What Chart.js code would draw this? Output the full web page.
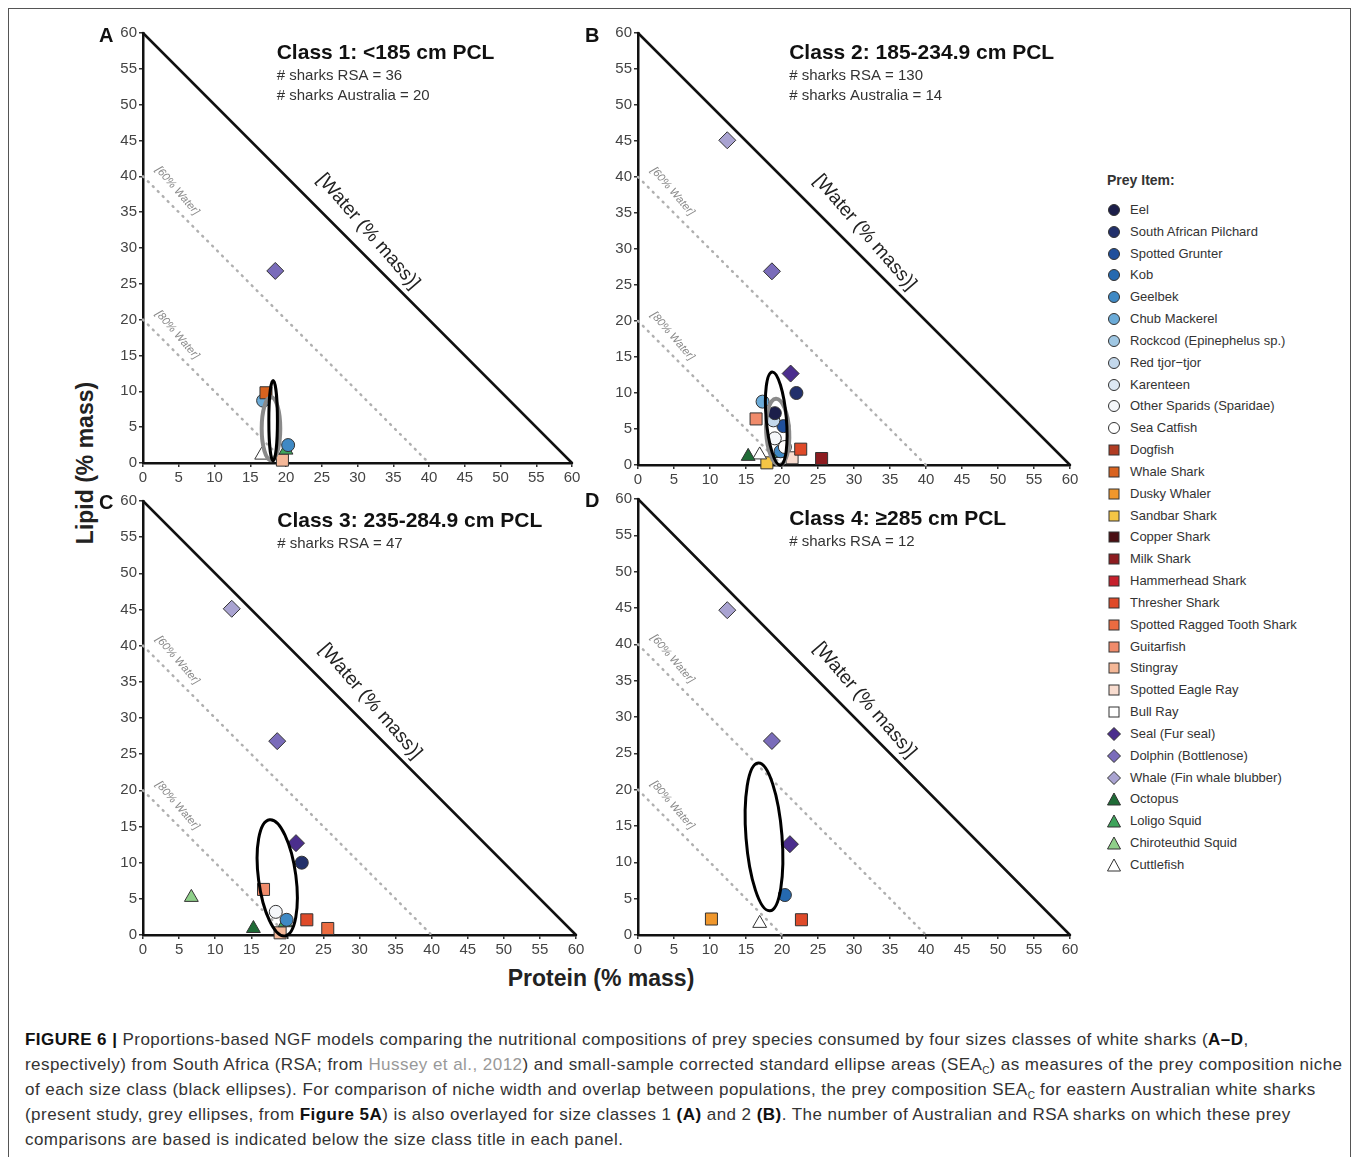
<!DOCTYPE html>
<html>
<head>
<meta charset="utf-8">
<script src="https://cdn.jsdelivr.net/npm/chart.js@4.4.1/dist/chart.umd.min.js"></script>
<style>
  body { margin: 0; background: #fff; font-family: "Liberation Sans", Arial, sans-serif; }
  #fig { position: relative; width: 1357px; height: 1157px; overflow: hidden; }
  #frame { position: absolute; left: 8px; top: 8px; width: 1343px; height: 1170px; border: 1.5px solid #555; box-sizing: border-box; }
  canvas { position: absolute; }
  .letter { position: absolute; font-weight: bold; font-size: 20px; color: #111; }
  .axlabel { position: absolute; font-weight: bold; font-size: 23px; color: #222; white-space: nowrap; }
  #legend { position: absolute; left: 1100px; top: 172px; font-size: 13px; color: #333; }
  #legend .head { position: absolute; left: 7px; top: 0; font-weight: bold; font-size: 14px; white-space: nowrap; }
  #legend .row { position: absolute; left: 0; white-space: nowrap; height: 16px; line-height: 16px; }
  #legend svg { position: absolute; left: 7px; top: 1px; }
  #legend .row span { position: absolute; left: 30px; top: 0; }
  #caption { position: absolute; left: 25px; top: 1027px; font-size: 17px; letter-spacing: 0.45px; line-height: 25px; color: #333; white-space: nowrap; }
  #caption b { color: #111; }
  #caption sub { font-size: 10px; line-height: 0; letter-spacing: 0; }
</style>
</head>
<body>
<div id="fig">
  <div id="frame"></div>
  <canvas id="panelA"></canvas>
  <canvas id="panelB"></canvas>
  <canvas id="panelC"></canvas>
  <canvas id="panelD"></canvas>
  <div class="letter" style="left:99px;top:24px">A</div>
  <div class="letter" style="left:585px;top:24px">B</div>
  <div class="letter" style="left:99px;top:491px">C</div>
  <div class="letter" style="left:585px;top:489px">D</div>
  <div class="axlabel" style="left:85px;top:463px;transform:translate(-50%,-50%) rotate(-90deg)">Lipid (% mass)</div>
  <div class="axlabel" style="left:601px;top:978px;transform:translate(-50%,-50%)">Protein (% mass)</div>
  <div id="legend"><div class="head">Prey Item:</div></div>
  <div id="caption">
    <b>FIGURE 6 |</b> Proportions-based NGF models comparing the nutritional compositions of prey species consumed by four sizes classes of white sharks (<b>A–D</b>,<br>
    respectively) from South Africa (RSA; from <span style="color:#999">Hussey et al., 2012</span>) and small-sample corrected standard ellipse areas (SEA<sub>C</sub>) as measures of the prey composition niche<br>
    of each size class (black ellipses). For comparison of niche width and overlap between populations, the prey composition SEA<sub>C</sub> for eastern Australian white sharks<br>
    (present study, grey ellipses, from <b>Figure 5A</b>) is also overlayed for size classes 1 <b>(A)</b> and 2 <b>(B)</b>. The number of Australian and RSA sharks on which these prey<br>
    comparisons are based is indicated below the size class title in each panel.
  </div>
</div>
<script>
// prey items, legend order
const preyNames = ['Eel', 'South African Pilchard', 'Spotted Grunter', 'Kob', 'Geelbek', 'Chub Mackerel',
  'Rockcod (Epinephelus sp.)', 'Red tjor\u2212tjor', 'Karenteen', 'Other Sparids (Sparidae)', 'Sea Catfish',
  'Dogfish', 'Whale Shark', 'Dusky Whaler', 'Sandbar Shark', 'Copper Shark', 'Milk Shark', 'Hammerhead Shark',
  'Thresher Shark', 'Spotted Ragged Tooth Shark', 'Guitarfish', 'Stingray', 'Spotted Eagle Ray', 'Bull Ray',
  'Seal (Fur seal)', 'Dolphin (Bottlenose)', 'Whale (Fin whale blubber)',
  'Octopus', 'Loligo Squid', 'Chiroteuthid Squid', 'Cuttlefish'];
const preyColors = ['#1c1e4a', '#22306b', '#1f4f9c', '#2569b0', '#3f89c4', '#6babd8', '#9fc7e3', '#c3d8ec',
  '#dde8f3', '#f5f7fa', '#ffffff',
  '#b13c22', '#d9631f', '#f0972c', '#f4c545', '#4a0e12', '#8d1c20', '#c6202c', '#df4a29', '#eb6b40',
  '#f08b6b', '#f4b797', '#f8dccf', '#ffffff',
  '#4b2e8d', '#7a6cba', '#a9a3d1',
  '#1f6b36', '#3ea45b', '#8fd08a', '#ffffff'];
const preyShapes = [
  ...Array(11).fill('circle'),
  ...Array(13).fill('rect'),
  ...Array(3).fill('rectRot'),
  ...Array(4).fill('triangle')];

const tickValues = [0, 5, 10, 15, 20, 25, 30, 35, 40, 45, 50, 55, 60];
const waterLine = [[0, 60], [60, 0]];
const water60Line = [[0, 40], [40, 0]];
const water80Line = [[0, 20], [20, 0]];

// [prey, protein %, lipid %]
const pointsA = [
  ['Dolphin (Bottlenose)', 18.5, 26.8],
  ['Whale Shark', 17.2, 9.8],
  ['Chub Mackerel', 16.8, 8.7],
  ['Cuttlefish', 16.6, 1.1],
  ['Geelbek', 20.3, 2.5],
  ['Loligo Squid', 20.0, 1.8],
  ['Stingray', 19.5, 0.4]];
const pointsB = [
  ['Whale (Fin whale blubber)', 12.4, 45.1],
  ['Dolphin (Bottlenose)', 18.6, 26.9],
  ['Seal (Fur seal)', 21.2, 12.7],
  ['South African Pilchard', 22.0, 10.0],
  ['Chub Mackerel', 17.3, 8.8],
  ['Guitarfish', 16.4, 6.4],
  ['Eel', 19.0, 7.2],
  ['Red tjor\u2212tjor', 18.8, 6.2],
  ['Spotted Grunter', 20.2, 5.4],
  ['Other Sparids (Sparidae)', 19.0, 3.7],
  ['Sea Catfish', 20.4, 2.5],
  ['Thresher Shark', 22.6, 2.2],
  ['Milk Shark', 25.5, 0.9],
  ['Octopus', 15.3, 1.2],
  ['Cuttlefish', 16.9, 1.4],
  ['Geelbek', 19.8, 1.9],
  ['Loligo Squid', 19.7, 1.6],
  ['Spotted Eagle Ray', 21.4, 1.0],
  ['Sandbar Shark', 17.9, 0.3]];
const pointsC = [
  ['Whale (Fin whale blubber)', 12.3, 45.1],
  ['Dolphin (Bottlenose)', 18.6, 26.8],
  ['Seal (Fur seal)', 21.2, 12.7],
  ['South African Pilchard', 22.0, 10.0],
  ['Guitarfish', 16.7, 6.3],
  ['Other Sparids (Sparidae)', 18.4, 3.2],
  ['Geelbek', 19.9, 2.1],
  ['Loligo Squid', 19.7, 1.7],
  ['Thresher Shark', 22.7, 2.1],
  ['Spotted Ragged Tooth Shark', 25.6, 0.9],
  ['Octopus', 15.3, 0.9],
  ['Chiroteuthid Squid', 6.7, 5.2],
  ['Stingray', 19.0, 0.3]];
const pointsD = [
  ['Whale (Fin whale blubber)', 12.4, 44.7],
  ['Dolphin (Bottlenose)', 18.6, 26.7],
  ['Seal (Fur seal)', 21.1, 12.5],
  ['Kob', 20.4, 5.5],
  ['Dusky Whaler', 10.2, 2.2],
  ['Cuttlefish', 16.9, 1.6],
  ['Thresher Shark', 22.7, 2.1]];

// SEAc ellipses: [centre protein, centre lipid, half-width, half-height, tilt deg, population]
const ellipsesA = [[17.9, 4.8, 1.3, 4.4, 0, 'Australia'], [18.2, 5.9, 0.6, 5.6, 0, 'RSA']];
const ellipsesB = [[19.4, 4.6, 1.6, 4.6, -3, 'Australia'], [19.2, 6.45, 1.4, 6.5, -5, 'RSA']];
const ellipsesC = [[18.6, 7.9, 2.6, 8.1, -7.5, 'RSA']];
const ellipsesD = [[17.5, 13.5, 2.5, 10.2, -4.5, 'RSA']];

const titles = ['Class 1: <185 cm PCL', 'Class 2: 185-234.9 cm PCL', 'Class 3: 235-284.9 cm PCL', 'Class 4: \u2265285 cm PCL'];
const subtitles = [
  ['# sharks RSA = 36', '# sharks Australia = 20'],
  ['# sharks RSA = 130', '# sharks Australia = 14'],
  ['# sharks RSA = 47'],
  ['# sharks RSA = 12']];

const FONT = '"Liberation Sans", Arial, sans-serif';
const YW = 40, XH = 26, PT = 12, PR = 16;

const decor = {
  id: 'decor',
  beforeDatasetsDraw(chart, args, o) {
    const { ctx, scales: { x, y }, chartArea } = chart;
    ctx.save();
    ctx.fillStyle = '#111';
    ctx.textBaseline = 'middle';
    ctx.font = 'bold 21px ' + FONT;
    const tx = x.getPixelForValue(o.titleX);
    ctx.fillText(o.title, tx, chartArea.top + 20);
    ctx.font = '15px ' + FONT;
    ctx.fillStyle = '#333';
    o.subs.forEach((s, i) => ctx.fillText(s, tx, chartArea.top + 43 + i * 20));
    const rot = (cxv, cyv, txt, font, col) => {
      ctx.save();
      ctx.translate(x.getPixelForValue(cxv), y.getPixelForValue(cyv));
      ctx.rotate(49 * Math.PI / 180);
      ctx.font = font; ctx.fillStyle = col; ctx.textAlign = 'center';
      ctx.fillText(txt, 0, 0);
      ctx.restore();
    };
    rot(31.5, 32.3, '[Water (% mass)]', '19px ' + FONT, '#222');
    rot(4.8, 38.0, '[60% Water]', 'italic 11px ' + FONT, '#888');
    rot(4.8, 17.9, '[80% Water]', 'italic 11px ' + FONT, '#888');
    ctx.restore();
  },
  afterDatasetsDraw(chart, args, o) {
    const { ctx, scales: { x, y } } = chart;
    o.ellipses.forEach(e => {
      const cx = x.getPixelForValue(e[0]), cy = y.getPixelForValue(e[1]);
      const rx = Math.abs(x.getPixelForValue(e[0] + e[2]) - cx);
      const ry = Math.abs(y.getPixelForValue(e[1] + e[3]) - cy);
      ctx.save();
      ctx.beginPath();
      ctx.ellipse(cx, cy, rx, ry, e[4] * Math.PI / 180, 0, 2 * Math.PI);
      ctx.strokeStyle = e[5] === 'Australia' ? '#8a8a8a' : '#000';
      ctx.lineWidth = e[5] === 'Australia' ? 4 : 3;
      ctx.stroke();
      ctx.restore();
    });
  }
};

function axis(pos) {
  return {
    type: 'linear', position: pos, min: 0, max: 60,
    afterBuildTicks: s => { s.ticks = tickValues.map(v => ({ value: v })); },
    afterFit: s => { if (pos === 'left') s.width = YW; else s.height = XH; },
    ticks: { font: { family: FONT, size: 15 }, color: '#444', padding: 2, maxRotation: 0, autoSkip: false },
    grid: { drawOnChartArea: false, drawTicks: true, tickLength: 4, color: '#333', lineWidth: 1.5 },
    border: { display: true, color: '#111', width: 2.5 }
  };
}

function guide(pts, color, width, dash) {
  return {
    type: 'line', data: pts.map(p => ({ x: p[0], y: p[1] })),
    borderColor: color, borderWidth: width, borderDash: dash, borderCapStyle: 'round',
    pointRadius: 0, fill: false, clip: false, order: 10
  };
}

function makePanel(id, box, points, ellipses, idx, titleX) {
  const cv = document.getElementById(id);
  const left = box[0] - YW, top = box[1] - PT;
  cv.width = box[2] + PR - left;
  cv.height = box[3] + XH - top;
  cv.style.left = left + 'px';
  cv.style.top = top + 'px';
  const sizes = { circle: 6.5, rect: 8.5, rectRot: 8.5, triangle: 8 };
  const pointSets = points.map(p => {
    const k = preyNames.indexOf(p[0]);
    return {
      type: 'scatter', label: p[0], data: [{ x: p[1], y: p[2] }],
      pointStyle: preyShapes[k], pointRadius: sizes[preyShapes[k]],
      backgroundColor: preyColors[k], borderColor: '#333', borderWidth: 1, clip: false, order: 1
    };
  });
  new Chart(cv, {
    type: 'scatter',
    data: {
      datasets: [
        guide(water80Line, '#b0b0b0', 2.5, [1, 6]),
        guide(water60Line, '#b0b0b0', 2.5, [1, 6]),
        guide(waterLine, '#111', 2.5, []),
        ...pointSets]
    },
    options: {
      responsive: false, animation: false, devicePixelRatio: 1,
      layout: { padding: { top: PT, right: PR, left: 0, bottom: 0 } },
      scales: { x: axis('bottom'), y: axis('left') },
      plugins: {
        legend: { display: false }, tooltip: { enabled: false },
        decor: { title: titles[idx], subs: subtitles[idx], titleX, ellipses }
      }
    },
    plugins: [decor]
  });
}

makePanel('panelA', [143, 33, 572, 463], pointsA, ellipsesA, 0, 18.7);
makePanel('panelB', [638, 33, 1070, 465], pointsB, ellipsesB, 1, 21.0);
makePanel('panelC', [143, 501, 576, 935], pointsC, ellipsesC, 2, 18.6);
makePanel('panelD', [638, 499, 1070, 935], pointsD, ellipsesD, 3, 21.0);

// legend
function marker(shape, color) {
  const st = 'fill="' + color + '" stroke="#333" stroke-width="1"';
  let m;
  if (shape === 'circle') m = '<circle cx="7" cy="7" r="5.5" ' + st + '/>';
  else if (shape === 'rect') m = '<rect x="2" y="2" width="10" height="10" ' + st + '/>';
  else if (shape === 'rectRot') m = '<polygon points="7,0.5 13.5,7 7,13.5 0.5,7" ' + st + '/>';
  else m = '<polygon points="7,1 13.5,13 0.5,13" ' + st + '/>';
  return '<svg width="14" height="14">' + m + '</svg>';
}
const leg = document.getElementById('legend');
preyNames.forEach((n, i) => {
  const row = document.createElement('div');
  row.className = 'row';
  row.style.top = (30 + i * 21.83) + 'px';
  row.innerHTML = marker(preyShapes[i], preyColors[i]) + '<span>' + n + '</span>';
  leg.appendChild(row);
});
</script>
</body>
</html>
